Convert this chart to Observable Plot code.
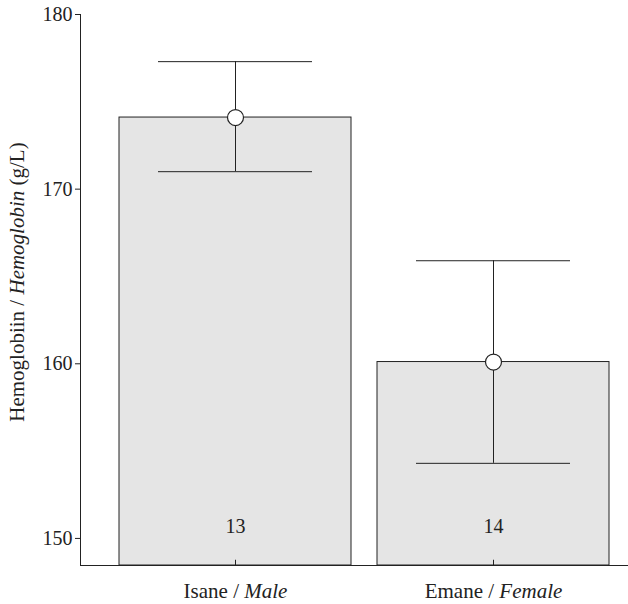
<!DOCTYPE html>
<html><head><meta charset="utf-8">
<script src="https://cdn.jsdelivr.net/npm/d3@7"></script>
<script src="https://cdn.jsdelivr.net/npm/@observablehq/plot@0.6"></script>
<style>body{margin:0;background:#fff}</style>
</head><body><div id="chart"></div>
<script>
const categories = ["Isane / Male", "Emane / Female"];
const nativeNames = ["Isane", "Emane"];
const englishNames = ["Male", "Female"];
const means = [174.1, 160.1];
const lower = [171.0, 154.3];
const upper = [177.3, 165.9];
const counts = [13, 14];
const yTicks = [150, 160, 170, 180];
const yMin = 148.45, yMax = 180;
const countY = 150.7;

const data = categories.map((c, i) => ({cat: c, mean: means[i], lo: lower[i], hi: upper[i], n: counts[i]}));
const font = "'Liberation Serif', 'Times New Roman', serif";
const ink = "#222";

const plot = Plot.plot({
  width: 628, height: 604,
  marginLeft: 80, marginRight: 0, marginTop: 14, marginBottom: 39,
  style: {fontFamily: font, fontSize: "20px", color: ink, background: "#fff"},
  x: {domain: categories, paddingInner: 0.1, paddingOuter: 0.112, align: 0.675, label: null},
  y: {domain: [yMin, yMax], label: null},
  marks: [
    Plot.barY(data, {x: "cat", y1: yMin, y2: "mean", fill: "#e5e5e5", stroke: ink, strokeWidth: 1}),
    Plot.ruleX(data, {x: "cat", y1: "lo", y2: "hi", stroke: ink, strokeWidth: 1}),
    Plot.tickY(data, {x: "cat", y: "lo", insetLeft: 39, insetRight: 39, stroke: ink, strokeWidth: 1}),
    Plot.tickY(data, {x: "cat", y: "hi", insetLeft: 39, insetRight: 39, stroke: ink, strokeWidth: 1}),
    Plot.dot(data, {x: "cat", y: "mean", r: 8, fill: "white", stroke: ink, strokeWidth: 1.2}),
    Plot.text(data, {x: "cat", y: countY, text: "n", fontSize: 20, fill: ink}),
    Plot.ruleX(data, {x: "cat", y1: yMin, y2: yMin + 0.3, stroke: ink, strokeWidth: 1}),
    Plot.axisY({ticks: yTicks, tickSize: 5, tickPadding: 3, fontSize: 20, label: null, stroke: ink, color: ink}),
    Plot.axisX({tickSize: 0, tickPadding: 18, fontSize: 21, label: null}),
    Plot.frame({anchor: "left", stroke: ink}),
    Plot.frame({anchor: "bottom", stroke: ink})
  ]
});

const svg = d3.select(plot);
svg.selectAll('g[aria-label="x-axis tick label"] text').each(function(d, i) {
  const t = d3.select(this);
  t.text(null);
  t.append("tspan").text(nativeNames[i] + " / ");
  t.append("tspan").attr("font-style", "italic").text(englishNames[i]);
});
const yl = svg.append("text")
  .attr("transform", "translate(17,282) rotate(-90)")
  .attr("text-anchor", "middle")
  .attr("dy", "0.35em")
  .attr("font-family", font)
  .attr("font-size", 21)
  .attr("fill", ink);
yl.append("tspan").text("Hemoglobiin / ");
yl.append("tspan").attr("font-style", "italic").text("Hemoglobin");
yl.append("tspan").text(" (g/L)");

document.getElementById("chart").appendChild(plot);
</script>
</body></html>
